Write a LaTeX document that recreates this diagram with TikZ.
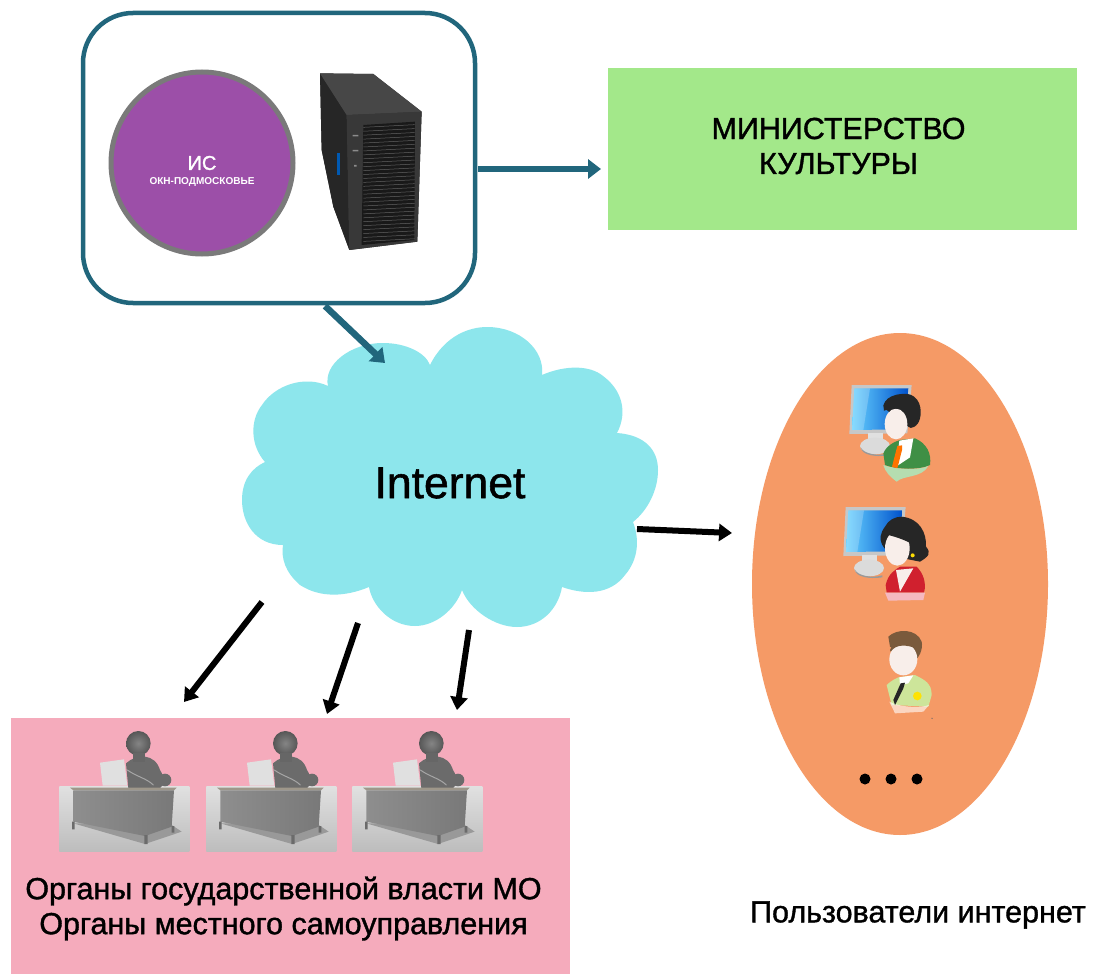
\documentclass[tikz,border=0pt]{standalone}
\usepackage{fontspec}
\usepackage{graphicx}
\setmainfont{Liberation Sans}
\newfontfamily\heavyfont[FakeBold=1.2]{Liberation Sans}
\usetikzlibrary{arrows.meta,shapes.geometric}
\definecolor{tealc}{HTML}{21667C}
\definecolor{violetc}{HTML}{9C4FA8}
\definecolor{greenbox}{HTML}{A3E88A}
\definecolor{cloudc}{HTML}{8DE6EC}
\definecolor{orangec}{HTML}{F59A66}
\definecolor{pinkc}{HTML}{F5ABBC}
\definecolor{skinc}{HTML}{F8EEEA}
\definecolor{jacketc}{HTML}{3F8F45}
\definecolor{jacketfade}{HTML}{B5DDB0}
\definecolor{uniformc}{HTML}{CDE59A}
\definecolor{hairbrown}{HTML}{7A5A3C}
\definecolor{blousec}{HTML}{D0202E}
\definecolor{blousefade}{HTML}{F5B9C0}
\definecolor{deskc}{HTML}{8E8E8E}
\definecolor{desktop}{HTML}{9E978A}
\tikzset{
  box/.style={draw=none,inner sep=0pt,outer sep=0pt},
  tealarrow/.style={draw=tealc,line width=6.5pt,-{Triangle[length=13pt,width=19pt]}},
  blackarrow/.style={draw=black,line width=6pt,-{Triangle[length=13pt,width=17pt]}},
  labelbig/.style={inner sep=0pt,font=\heavyfont\fontsize{30.5}{35}\selectfont,align=center},
}
\newcommand{\deskdraw}{%
    \shade[top color=black!12,bottom color=black!26] (28,200) rectangle (418,395);
    \fill[black!40] (70,310) -- (285,372) -- (395,335) -- (365,315) -- cycle;
    \fill[black!58] (228,130) .. controls (260,100) and (315,100) .. (330,150) .. controls (345,170) and (340,200) .. (330,205) -- (235,205) -- cycle;
    \fill[black!58] (345,180) circle (19);
    \shade[inner color=black!48,outer color=black!66] (265,70) circle (37);
    \fill[black!60] (250,100) rectangle (285,125);
    \fill[black!12] (150,128) -- (222,118) -- (232,197) -- (158,197) -- cycle;
    \draw[black!35,line width=1pt,line cap=round] (232,150) .. controls (260,170) and (290,175) .. (310,195);
    \fill[desktop] (60,203) -- (380,203) -- (372,211) -- (70,211) -- cycle;
    \shade[left color=deskc,right color=deskc!85!black] (70,211) -- (372,211) -- (365,320) -- (285,348) -- (70,305) -- cycle;
    \fill[black!58] (66,305) rectangle (74,328) (283,345) rectangle (293,372) (365,318) rectangle (373,338);
}
\newcommand{\monitordraw}{%
    \fill[black!22] (95,45) -- (275,45) -- (262,190) -- (88,192) -- cycle;
    \shade[left color=cyan!70!blue!60,right color=blue!60!cyan!80!black] (103,55) -- (265,55) -- (252,178) -- (96,180) -- cycle;
    \fill[white,opacity=.22] (103,55) -- (150,55) -- (130,180) -- (96,180) -- cycle;
    \fill[black!12] (145,190) rectangle (190,210);
    \fill[black!14] (165,228) ellipse (45 and 25);
    \fill[black!40] (122,232) .. controls (130,250) and (170,260) .. (205,250) -- (205,256) .. controls (165,262) and (125,255) .. (122,232);
}
\begin{document}
\begin{tikzpicture}[x=1pt,y=-1pt]
\useasboundingbox (0,0) rectangle (1095,974);
\fill[white] (0,0) rectangle (1095,974);

% ---- boxes
\node[box,fill=greenbox,minimum width=469pt,minimum height=162pt] (ministry) at (842.5,149) {};
\node[labelbig] (mintext) at (838.5,146) {МИНИСТЕРСТВО\\КУЛЬТУРЫ};
\node[box,fill=pinkc,minimum width=559pt,minimum height=256pt] (organs) at (290.5,846) {};
\node[box,fill=orangec,shape=ellipse,minimum width=296pt,minimum height=502pt] (users) at (900,584) {};
\node[box,draw=tealc,line width=4.5pt,fill=white,rounded corners=50pt,minimum width=392pt,minimum height=290pt] (panel) at (279,158) {};

% ---- IS circle
\node[box,shape=circle,draw=black!52,line width=5pt,fill=violetc,minimum size=182pt] (is) at (202,163) {};
\node[inner sep=0pt,text=white,font=\heavyfont\fontsize{20}{22}\selectfont] (istitle) at (202,163) {ИС};
\node[inner sep=0pt,text=white,font=\bfseries] (issub) at (202,182) {\resizebox{105pt}{7pt}{ОКН-ПОДМОСКОВЬЕ}};

% ---- server
\begin{scope}[shift={(80,50)},scale=1/3]
  \fill[black!78] (720,70) -- (880,72) -- (1025,185) -- (1012,575) -- (808,600) -- (760,470) -- (725,300) -- cycle;
  \fill[black!85] (720,70) -- (800,195) -- (808,600) -- (760,470) -- (725,300) -- cycle;
  \fill[black!72] (720,70) -- (880,72) -- (1025,185) -- (800,195) -- cycle;
  \fill[black!78] (800,195) -- (1025,185) -- (1012,575) -- (808,600) -- cycle;
  \fill[black!90] (850,225) -- (1005,215) -- (1003,570) -- (845,585) -- cycle;
  \foreach \i in {0,...,29} {
    \draw[black!62,line width=.5pt] (850,{232+\i*11.8}) -- (1004,{224+\i*11.8});
  }
  \fill[blue!50!cyan!70!black] (772,310) rectangle (780,375);
  \fill[black!45] (818,255) rectangle (835,259) (818,300) rectangle (835,304) (822,345) rectangle (830,350);
\end{scope}

% ---- cloud
\fill[cloudc] (430,365)
  .. controls (445,335) and (470,327) .. (487,327)
  .. controls (520,327) and (545,350) .. (542,375)
  .. controls (565,365) and (590,365) .. (603,376)
  .. controls (622,390) and (628,412) .. (617,433)
  .. controls (645,435) and (658,450) .. (658,470)
  .. controls (658,490) and (648,510) .. (633,522)
  .. controls (640,540) and (638,560) .. (625,575)
  .. controls (610,595) and (585,595) .. (562,587)
  .. controls (558,610) and (540,627) .. (517,627)
  .. controls (495,627) and (470,610) .. (462,590)
  .. controls (455,610) and (435,626) .. (415,626)
  .. controls (390,626) and (372,605) .. (369,587)
  .. controls (345,597) and (320,598) .. (300,585)
  .. controls (285,572) and (281,558) .. (283,545)
  .. controls (255,545) and (242,522) .. (242,500)
  .. controls (242,480) and (252,468) .. (265,462)
  .. controls (250,445) and (250,420) .. (262,405)
  .. controls (275,385) and (305,375) .. (328,386)
  .. controls (323,365) and (350,343) .. (383,343)
  .. controls (405,343) and (425,352) .. (430,365) -- cycle;
\node[inner sep=0pt,font=\heavyfont\fontsize{44.5}{46}\selectfont] (cloud) at (450,483) {Internet};

% ---- connector ends
\coordinate (cE) at (637,529);
\coordinate (cT) at (385,363);
\coordinate (uW) at (732,533);
\coordinate (c1) at (262,602);
\coordinate (c2) at (358,623);
\coordinate (c3) at (469,630);
\coordinate (o1) at (184,702);
\coordinate (o2) at (327,714);
\coordinate (o3) at (457,710);
\coordinate (pS) at (325,306);
\coordinate (pE) at (478,169);
\coordinate (mW) at (601,169);

\draw[tealarrow] (pE) -- (mW);
\draw[tealarrow] (pS) -- (cT);
\draw[blackarrow] (cE) -- (uW);
\draw[blackarrow] (c1) -- (o1);
\draw[blackarrow] (c2) -- (o2);
\draw[blackarrow] (c3) -- (o3);

% ---- desks
\begin{scope}[shift={(50,720)},scale=1/3]\deskdraw\end{scope}
\begin{scope}[shift={(197,720)},scale=1/3]\deskdraw\end{scope}
\begin{scope}[shift={(343,720)},scale=1/3]\deskdraw\end{scope}

% ---- users: man
\begin{scope}[shift={(820,370)},scale=1/3]\monitordraw\end{scope}
\begin{scope}[shift={(820,370)},scale=1/3]
  \fill[jacketc] (190,250) .. controls (200,225) and (225,215) .. (240,210) -- (285,205) .. controls (320,220) and (335,250) .. (330,285) .. controls (300,300) and (230,300) .. (195,285) -- cycle;
  \fill[jacketfade] (190,285) .. controls (230,300) and (300,300) .. (325,288) .. controls (305,325) and (250,315) .. (230,335) .. controls (210,320) and (195,305) .. (190,285);
  \fill[white] (238,212) -- (280,205) -- (270,262) -- (228,290) -- cycle;
  \fill[orange!90!red] (232,228) -- (246,226) -- (246,240) -- (232,295) -- (216,290) -- cycle;
  \fill[black!85] (245,72) .. controls (285,65) and (310,100) .. (300,145) .. controls (295,170) and (270,180) .. (265,170) -- (200,120) .. controls (180,110) and (195,75) .. (245,72);
  \fill[skinc] (228,162) ellipse (34 and 46);
  \fill[black!85] (190,105) .. controls (205,85) and (245,90) .. (262,125) .. controls (240,112) and (210,115) .. (192,122) -- cycle;
\end{scope}

% ---- users: woman
\begin{scope}[shift={(814,492)},scale=1/3]\monitordraw\end{scope}
\begin{scope}[shift={(820,370)},scale=1/3]
  \fill[blousec] (197,645) .. controls (205,610) and (225,600) .. (240,590) -- (290,590) .. controls (310,610) and (320,640) .. (312,668) -- (200,668) -- cycle;
  \fill[blousefade] (195,668) -- (315,668) -- (310,690) -- (205,692) -- cycle;
  \fill[skinc] (228,600) -- (280,595) -- (240,665) -- cycle;
  \fill[black!85] (245,440) .. controls (300,445) and (320,490) .. (318,530) .. controls (335,550) and (325,560) .. (300,575) -- (225,560) .. controls (190,540) and (165,510) .. (195,470) .. controls (205,450) and (225,440) .. (245,440);
  \fill[skinc] (232,535) ellipse (37 and 52);
  \fill[black!85] (205,470) .. controls (225,455) and (262,470) .. (272,520) .. controls (255,510) and (225,500) .. (205,495) -- cycle;
  \fill[yellow!80!orange] (278,556) circle (6);
\end{scope}

% ---- users: officer
\begin{scope}[shift={(860,620)},scale=1/3]
  \fill[uniformc] (80,195) .. controls (95,180) and (110,175) .. (115,172) -- (165,165) .. controls (195,180) and (215,190) .. (215,225) -- (205,260) -- (95,255) -- cycle;
  \fill[white,opacity=.6] (88,245) .. controls (120,262) and (180,265) .. (207,255) -- (190,275) -- (105,280) -- cycle;
  \fill[white] (118,172) -- (160,166) -- (145,190) -- (120,195) -- cycle;
  \fill[black!85] (122,190) -- (135,188) -- (130,205) -- (105,255) -- (100,240) -- cycle;
  \fill[yellow!85!orange] (172,228) circle (13);
  \fill[hairbrown] (85,50) .. controls (110,25) and (170,25) .. (185,65) .. controls (190,90) and (175,115) .. (165,120) -- (90,80) -- cycle;
  \fill[skinc] (130,118) ellipse (42 and 48);
  \fill[hairbrown] (90,90) .. controls (100,60) and (140,55) .. (170,85) .. controls (140,75) and (110,70) .. (92,95) -- cycle;
  \fill[black!60] (216,295) circle (2);
\end{scope}

% ---- dots
\fill (865,779) circle (5.5);
\fill (891,779) circle (5.5);
\fill (917,779) circle (5.5);

% ---- captions
\node[labelbig] (orgtext) at (283.5,908.5) {Органы государственной власти МО\\Органы местного самоуправления};
\node[labelbig] (usertext) at (918,915) {Пользователи интернет};
\end{tikzpicture}
\end{document}
